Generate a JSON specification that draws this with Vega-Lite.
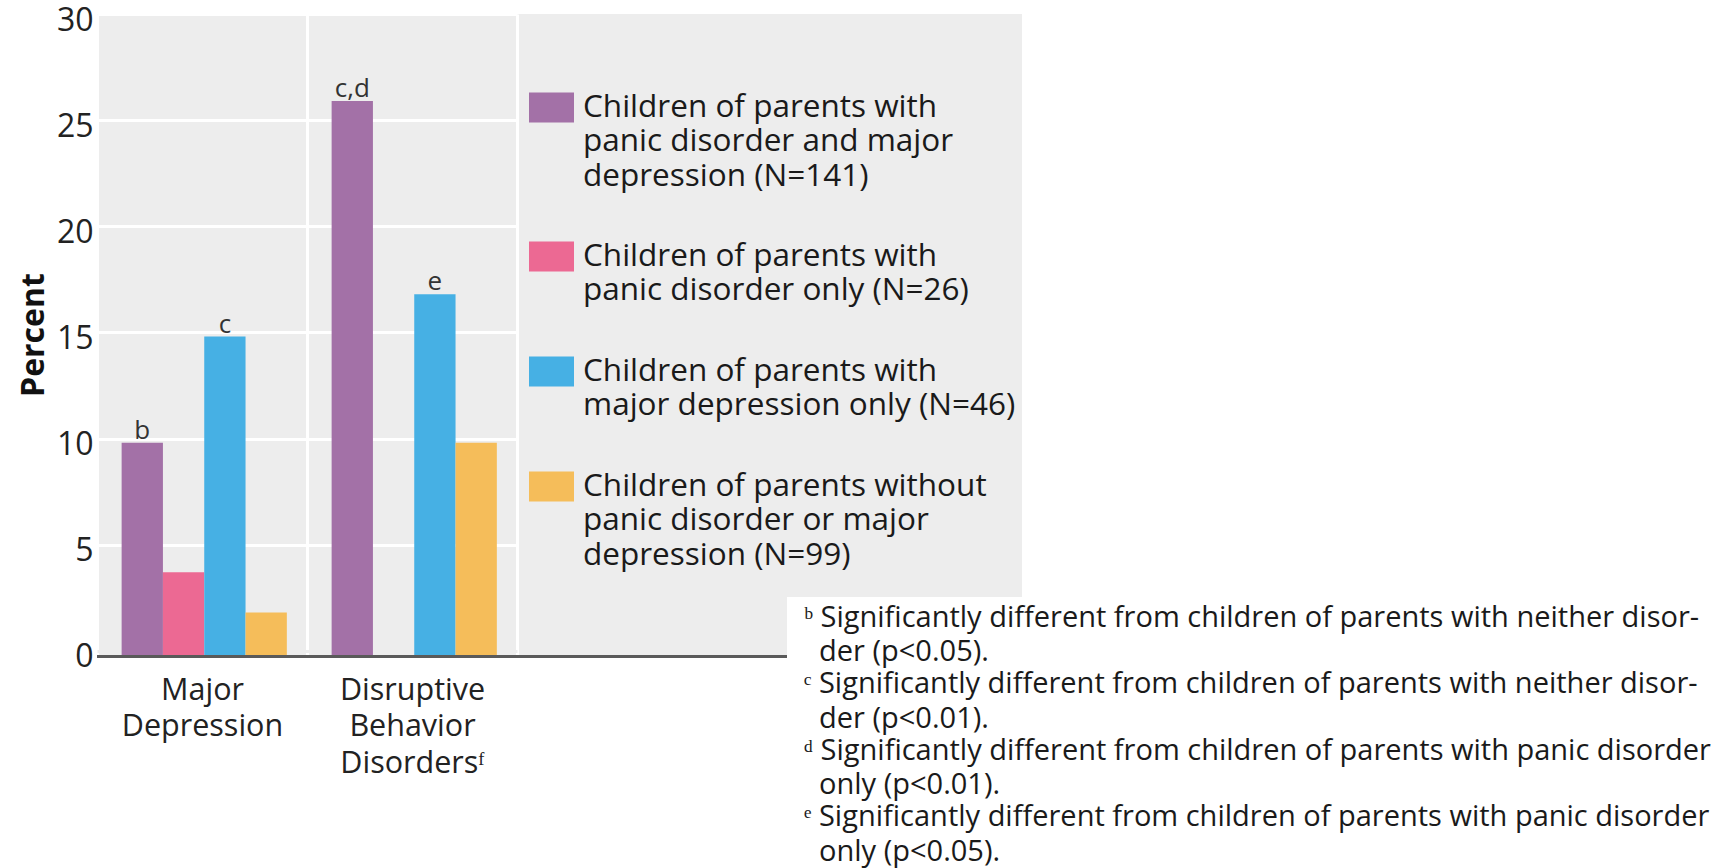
{
  "$schema": "https://vega.github.io/schema/vega-lite/v6.json",
  "autosize": {"type": "pad"},
  "width": 925,
  "height": 641,
  "padding": {"left": 17, "top": 4, "right": 5, "bottom": 0},
  "background": "white",
  "view": {"fill": "#ededed", "stroke": null},
  "config": {
    "view": {"fill": "#ededed", "stroke": null},
    "font": "Open Sans",
    "axis": {"labelFont": "Open Sans", "titleFont": "Open Sans"},
    "legend": {"labelFont": "Open Sans"},
    "style": {"guide-label": {"lineHeight": 34.5}}
  },
  "layer": [
    {
      "data": {
        "values": [
          {"category": "Major Depression", "group": "Children of parents with|panic disorder and major|depression (N=141)", "value": 9.8, "sig": "b"},
          {"category": "Major Depression", "group": "Children of parents with|panic disorder only (N=26)", "value": 3.7, "sig": ""},
          {"category": "Major Depression", "group": "Children of parents with|major depression only (N=46)", "value": 14.8, "sig": "c"},
          {"category": "Major Depression", "group": "Children of parents without|panic disorder or major|depression (N=99)", "value": 1.8, "sig": ""},
          {"category": "Disruptive Behavior Disorders\u1da0", "group": "Children of parents with|panic disorder and major|depression (N=141)", "value": 25.9, "sig": "c,d"},
          {"category": "Disruptive Behavior Disorders\u1da0", "group": "Children of parents with|major depression only (N=46)", "value": 16.8, "sig": "e"},
          {"category": "Disruptive Behavior Disorders\u1da0", "group": "Children of parents without|panic disorder or major|depression (N=99)", "value": 9.8, "sig": ""}
        ]
      },
      "encoding": {
        "x": {
          "field": "category", "type": "nominal", "sort": null,
          "scale": {"range": [0, 420], "paddingInner": 0, "paddingOuter": 0},
          "axis": {
            "title": null, "orient": "bottom", "domain": false, "ticks": false,
            "grid": true, "gridColor": "white", "gridWidth": 3, "gridOpacity": 1,
            "tickBand": "extent", "labelAngle": 0,
            "labelExpr": "split(datum.label, ' ')",
            "labelFontSize": 30.5, "labelLineHeight": 36.5, "labelPadding": 20,
            "labelColor": "#222", "labelBaseline": "top"
          }
        },
        "xOffset": {
          "field": "group", "type": "nominal",
          "scale": {
            "domain": [
              "Children of parents with|panic disorder and major|depression (N=141)",
              "Children of parents with|panic disorder only (N=26)",
              "Children of parents with|major depression only (N=46)",
              "Children of parents without|panic disorder or major|depression (N=99)"
            ],
            "paddingInner": 0, "paddingOuter": 0.542, "align": 0.55
          }
        },
        "y": {
          "field": "value", "type": "quantitative",
          "scale": {"domain": [-0.2, 30], "nice": false, "zero": false},
          "axis": {
            "values": [0, 5, 10, 15, 20, 25, 30],
            "title": "Percent", "domain": false, "ticks": false, "grid": true,
            "gridColor": {"condition": {"test": "datum.value === 0", "value": "#ededed"}, "value": "white"},
            "gridWidth": 3, "gridOpacity": 1,
            "labelFontSize": 32, "labelPadding": 4, "labelOffset": 6, "labelColor": "#222",
            "titleFontSize": 32, "titleFontWeight": "bold", "titleColor": "#111", "titlePadding": 6
          }
        }
      },
      "layer": [
        {
          "mark": {"type": "bar"},
          "encoding": {
            "y2": {"datum": -0.2},
            "color": {
              "field": "group", "type": "nominal", "sort": null,
              "scale": {
                "domain": [
                  "Children of parents with|panic disorder and major|depression (N=141)",
                  "Children of parents with|panic disorder only (N=26)",
                  "Children of parents with|major depression only (N=46)",
                  "Children of parents without|panic disorder or major|depression (N=99)"
                ],
                "range": ["#A371A7", "#EC6993", "#46B0E4", "#F5BD5A"]
              },
              "legend": {
                "title": null, "orient": "none", "legendX": 432, "legendY": 71,
                "direction": "vertical", "padding": 0,
                "symbolType": "M-1,-0.6667H1V0.6667H-1Z", "symbolSize": 2025,
                "symbolStrokeWidth": 0, "symbolOpacity": 1,
                "labelExpr": "split(datum.label, '|')",
                "labelFontSize": 31.5, "labelOffset": 9,
                "labelLimit": 700, "labelColor": "#1a1a1a", "rowPadding": 42
              }
            }
          }
        },
        {
          "mark": {"type": "text", "fontSize": 26, "baseline": "alphabetic", "dy": -4, "color": "#333", "font": "Open Sans"},
          "encoding": {"text": {"field": "sig"}}
        }
      ]
    },
    {
      "data": {"values": [{}]},
      "mark": {"type": "rule", "color": "#5a5a5a", "strokeWidth": 3},
      "encoding": {"y": {"datum": -0.27}}
    },
    {
      "data": {
        "values": [
          {"note": "\u1d47\u00a0Significantly different from children of parents with neither disor-|\u200b\u00a0\u00a0der (p<0.05)."},
          {"note": "\u1d9c\u00a0Significantly different from children of parents with neither disor-|\u200b\u00a0\u00a0der (p<0.01)."},
          {"note": "\u1d48\u00a0Significantly different from children of parents with panic disorder|\u200b\u00a0\u00a0only (p<0.01)."},
          {"note": "\u1d49\u00a0Significantly different from children of parents with panic disorder|\u200b\u00a0\u00a0only (p<0.05)."}
        ]
      },
      "mark": {"type": "point", "opacity": 0},
      "encoding": {
        "shape": {
          "field": "note", "type": "nominal", "sort": null,
          "legend": {
            "title": null, "orient": "none", "legendX": 690, "legendY": 583,
            "padding": 6, "fillColor": "white",
            "symbolSize": 0, "symbolOpacity": 0, "symbolStrokeWidth": 0,
            "labelExpr": "split(datum.label, '|')",
            "labelFont": "Open Sans", "labelFontSize": 29,
            "labelOffset": -18, "labelLimit": 1200, "labelColor": "#1a1a1a", "rowPadding": 2.5
          }
        }
      }
    }
  ]
}
